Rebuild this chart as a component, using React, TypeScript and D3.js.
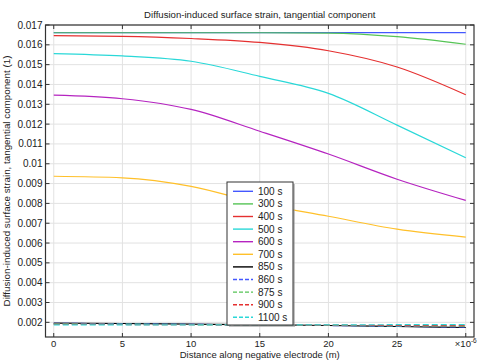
import React from "react";
import * as d3 from "d3";

const xs = [0, 5, 10, 15, 20, 25, 30];
const seriesNames = ["100 s", "300 s", "400 s", "500 s", "600 s", "700 s", "850 s", "860 s", "875 s", "900 s", "1100 s"];
const s100 = [0.01662, 0.01662, 0.01662, 0.01662, 0.01662, 0.01662, 0.01662];
const s300 = [0.01661, 0.01661, 0.01661, 0.01661, 0.01659, 0.01641, 0.01603];
const s400 = [0.01646, 0.01643, 0.01632, 0.01612, 0.0157, 0.01488, 0.01348];
const s500 = [0.01556, 0.01544, 0.01517, 0.01441, 0.01355, 0.01195, 0.0103];
const s600 = [0.01346, 0.01328, 0.01274, 0.01164, 0.01049, 0.00922, 0.00815];
const s700 = [0.00937, 0.00929, 0.00886, 0.008, 0.00735, 0.0067, 0.0063];
const s850 = [0.00196, 0.00194, 0.00191, 0.00188, 0.00184, 0.00179, 0.00174];
const s860 = [0.00195, 0.00193, 0.0019, 0.00187, 0.00184, 0.0018, 0.00176];
const s875 = [0.00192, 0.00191, 0.00189, 0.00187, 0.00185, 0.00182, 0.0018];
const s900 = [0.0019, 0.00189, 0.00188, 0.00187, 0.00186, 0.00184, 0.00183];
const s1100 = [0.00187, 0.00187, 0.00187, 0.00187, 0.00187, 0.00188, 0.00188];
const allSeries = [s100, s300, s400, s500, s600, s700, s850, s860, s875, s900, s1100];
const colors = ["#4458ff", "#55c455", "#e53030", "#2ad8d8", "#b524c0", "#ffc02a", "#000000", "#4458ff", "#55c455", "#e53030", "#2ad8d8"];
const dashed = [false, false, false, false, false, false, false, true, true, true, true];
const xTicks = [0, 5, 10, 15, 20, 25, 30];
const xTickLabels = ["0", "5", "10", "15", "20", "25", ""];
const yTicks = [0.002, 0.003, 0.004, 0.005, 0.006, 0.007, 0.008, 0.009, 0.01, 0.011, 0.012, 0.013, 0.014, 0.015, 0.016, 0.017];

const W = 481, H = 363;
const L = 45.5, R = 474, T = 25, B = 337;
const font = "'Liberation Sans', Arial, sans-serif";

export default function App() {
  const x = d3.scaleLinear().domain([-0.6, 30.6]).range([L, R]);
  const y = d3.scaleLinear().domain([0.00126, 0.017]).range([B, T]);
  const line = d3.line<number>().x((_, i) => x(xs[i])).y((d) => y(d)).curve(d3.curveMonotoneX);
  const legX = 227, legY = 182, legW = 66, legH = 143;
  return (
    <svg width={W} height={H} style={{ position: "absolute", left: 0, top: 0, fontFamily: font }}>
      <rect x={0} y={0} width={W} height={H} fill="#fff" />
      <defs>
        <clipPath id="plot"><rect x={L} y={T} width={R - L} height={B - T} /></clipPath>
      </defs>
      {xTicks.map((t) => (
        <line key={"gx" + t} x1={x(t)} x2={x(t)} y1={T} y2={B} stroke="#e2e2e2" strokeWidth={1} />
      ))}
      {yTicks.map((t) => (
        <line key={"gy" + t} x1={L} x2={R} y1={y(t)} y2={y(t)} stroke="#e2e2e2" strokeWidth={1} />
      ))}
      <g clipPath="url(#plot)">
        {allSeries.map((s, i) => (
          <path key={i} d={line(s) || ""} fill="none" stroke={colors[i]} strokeWidth={1.2}
            strokeDasharray={dashed[i] ? "6,3" : undefined} />
        ))}
      </g>
      <rect x={L} y={T} width={R - L} height={B - T} fill="none" stroke="#333" strokeWidth={1.2} />
      {xTicks.map((t, i) => (
        <g key={"tx" + t}>
          <line x1={x(t)} x2={x(t)} y1={B} y2={B - 4} stroke="#333" />
          <line x1={x(t)} x2={x(t)} y1={T} y2={T + 4} stroke="#333" />
          <text x={x(t)} y={346.5} fontSize={9.5} textAnchor="middle" fill="#222">{xTickLabels[i]}</text>
        </g>
      ))}
      <text x={x(30)} y={346.5} fontSize={9.5} textAnchor="middle" fill="#222">×10<tspan dy={-4} fontSize={6.5}>-6</tspan></text>
      {yTicks.map((t) => (
        <g key={"ty" + t}>
          <line x1={L} x2={L + 4} y1={y(t)} y2={y(t)} stroke="#333" />
          <line x1={R} x2={R - 4} y1={y(t)} y2={y(t)} stroke="#333" />
          <text x={42.5} y={y(t) + 3.5} fontSize={10} textAnchor="end" fill="#222">{String(+t.toFixed(3))}</text>
        </g>
      ))}
      <text x={(L + R) / 2} y={18} fontSize={9.6} textAnchor="middle" fill="#222">Diffusion-induced surface strain, tangential component</text>
      <text x={(L + R) / 2} y={357.5} fontSize={9.5} textAnchor="middle" fill="#222">Distance along negative electrode (m)</text>
      <text transform={`translate(10,${(T + B) / 2}) rotate(-90)`} fontSize={9.8} textAnchor="middle" fill="#222">Diffusion-induced surface strain, tangential component (1)</text>
      <rect x={legX + 2} y={legY + 2} width={legW} height={legH} fill="#999" opacity={0.6} />
      <rect x={legX} y={legY} width={legW} height={legH} fill="#fff" stroke="#333" strokeWidth={1} />
      {seriesNames.map((n, i) => {
        const yy = 191.3 + i * 12.6;
        return (
          <g key={n}>
            <line x1={233} x2={253} y1={yy} y2={yy} stroke={colors[i]} strokeWidth={1.4} strokeDasharray={dashed[i] ? "4,2" : undefined} />
            <text x={258} y={yy + 3.5} fontSize={10} fill="#222">{n}</text>
          </g>
        );
      })}
    </svg>
  );
}
